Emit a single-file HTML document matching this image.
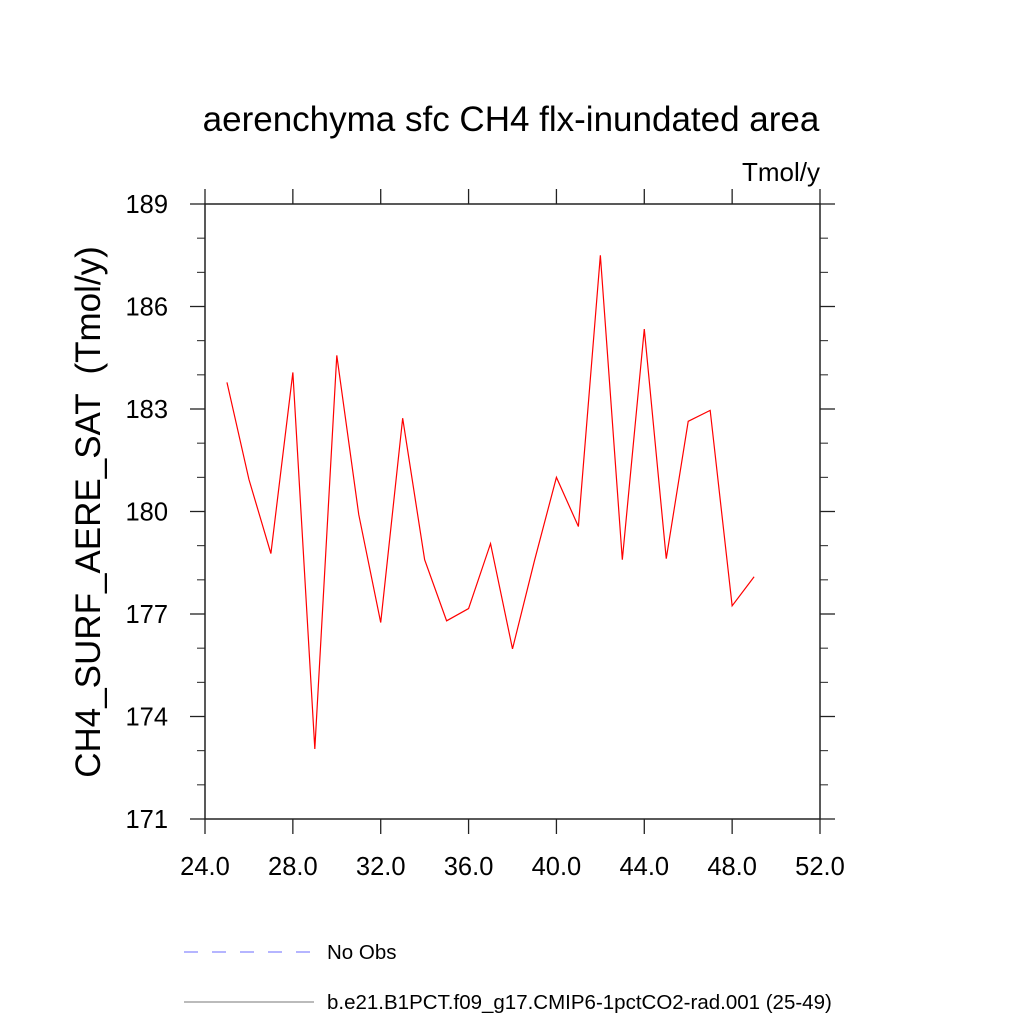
<!DOCTYPE html>
<html><head><meta charset="utf-8"><style>
body{margin:0;background:#fff}
svg text{font-family:"Liberation Sans",sans-serif}
</style></head><body>
<svg id="chart" width="1024" height="1024" viewBox="0 0 1024 1024">
<text x="511" y="131" font-size="35" text-anchor="middle">aerenchyma sfc CH4 flx-inundated area</text>
<text x="820" y="181" font-size="26" text-anchor="end">Tmol/y</text>
<text transform="translate(100,512) rotate(-90)" font-size="35" text-anchor="middle" xml:space="preserve">CH4_SURF_AERE_SAT  (Tmol/y)</text>
<g id="axes"></g>
<polyline id="series" fill="none" stroke="#ff0000" stroke-width="1.2"/>
<line x1="184" y1="952" x2="314" y2="952" stroke="#6b6bff" stroke-width="1" stroke-dasharray="14,14"/>
<text x="327" y="959" font-size="20.5">No Obs</text>
<line x1="184" y1="1002" x2="314" y2="1002" stroke="#777" stroke-width="1"/>
<text x="327" y="1009" font-size="20.5">b.e21.B1PCT.f09_g17.CMIP6-1pctCO2-rad.001 (25-49)</text>
</svg>
<script>
const years=[25,26,27,28,29,30,31,32,33,34,35,36,37,38,39,40,41,42,43,44,45,46,47,48,49];
const values=[183.78,180.94,178.77,184.07,173.05,184.57,179.91,176.75,182.73,178.59,176.80,177.16,179.06,175.98,178.56,181.0,179.56,187.50,178.59,185.34,178.62,182.64,182.96,177.24,178.09];
const xTicks=[24,28,32,36,40,44,48,52];
const xTickLabels=["24.0","28.0","32.0","36.0","40.0","44.0","48.0","52.0"];
const yTicks=[171,174,177,180,183,186,189];
const X0=205,X1=820,Y0=204,Y1=819;
const xs=v=>X0+(v-24)/(52-24)*(X1-X0);
const ys=v=>Y1-(v-171)/(189-171)*(Y1-Y0);
const NS="http://www.w3.org/2000/svg";
const g=document.getElementById('axes');
function ln(x1,y1,x2,y2,name,w){const l=document.createElementNS(NS,'line');
l.setAttribute('x1',x1);l.setAttribute('y1',y1);l.setAttribute('x2',x2);l.setAttribute('y2',y2);
l.setAttribute('stroke','#222');l.setAttribute('stroke-width',w||1.3);


g.appendChild(l);}
function tx(x,y,s,anchor,name){const t=document.createElementNS(NS,'text');
t.setAttribute('x',x);t.setAttribute('y',y);t.setAttribute('font-size','25.5');t.setAttribute('text-anchor',anchor);t.textContent=s;


g.appendChild(t);}
const fr=document.createElementNS(NS,'rect');
fr.setAttribute('x',X0);fr.setAttribute('y',Y0);fr.setAttribute('width',X1-X0);fr.setAttribute('height',Y1-Y0);
fr.setAttribute('fill','none');fr.setAttribute('stroke','#222');fr.setAttribute('stroke-width','1.5');


g.appendChild(fr);
xTicks.forEach((v,i)=>{const x=xs(v);
ln(x,Y1,x,Y1+15,'x-tick');ln(x,Y0,x,Y0-15,'x-tick-top');
tx(x,Y1+56,xTickLabels[i],'middle','x-tick-label');});
for(let v=171;v<=189;v++){const y=ys(v);const major=(v-171)%3===0;const L=major?15:8;
ln(X0-L,y,X0,y,major?'y-tick':'y-minor-tick',major?1.3:1);ln(X1,y,X1+L,y,major?'y-tick-right':'y-minor-tick-right',major?1.3:1);}
yTicks.forEach(v=>tx(X0-37,ys(v)+9,String(v),'end','y-tick-label'));
document.getElementById('series').setAttribute('points',years.map((y,i)=>xs(y)+','+ys(values[i])).join(' '));
</script>
</body></html>
